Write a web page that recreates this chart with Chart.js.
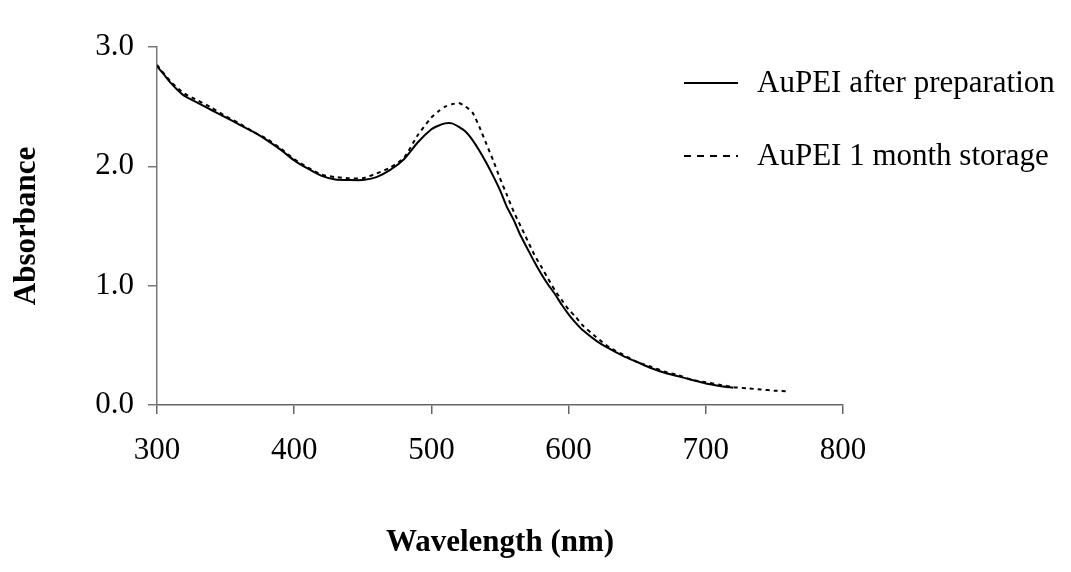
<!DOCTYPE html>
<html>
<head>
<meta charset="utf-8">
<script src="https://cdn.jsdelivr.net/npm/chart.js@4.4.1/dist/chart.umd.min.js"></script>
<style>
  html, body { margin: 0; padding: 0; background: #fff; }
  #wrap { width: 1071px; height: 572px; }
</style>
</head>
<body>
<div id="wrap"><canvas id="uv-chart" width="1071" height="572"></canvas></div>
<script>
// wavelengths (nm) and absorbance
const freshWl  = [300, 305, 310, 315, 320, 330, 340, 350, 360, 370, 380, 390, 400, 410, 420, 430, 440, 450, 460, 470, 480, 490, 500, 505, 510, 515, 520, 525, 530, 535, 540, 545, 550, 555, 560, 565, 570, 575, 580, 585, 590, 595, 600, 605, 610, 620, 630, 640, 650, 660, 670, 680, 690, 700, 710, 720];
const freshAbs = [2.84, 2.77, 2.70, 2.64, 2.59, 2.53, 2.47, 2.41, 2.35, 2.29, 2.22, 2.14, 2.05, 1.98, 1.92, 1.89, 1.885, 1.885, 1.91, 1.97, 2.06, 2.20, 2.31, 2.34, 2.36, 2.36, 2.33, 2.29, 2.22, 2.13, 2.03, 1.92, 1.80, 1.66, 1.55, 1.42, 1.31, 1.20, 1.10, 1.01, 0.93, 0.84, 0.76, 0.69, 0.63, 0.54, 0.47, 0.41, 0.36, 0.31, 0.27, 0.24, 0.21, 0.18, 0.16, 0.145];

const storedWl  = [300, 310, 320, 330, 340, 350, 360, 370, 380, 390, 400, 410, 420, 430, 440, 450, 460, 470, 480, 490, 500, 505, 510, 515, 520, 525, 530, 535, 540, 545, 550, 555, 560, 565, 570, 575, 580, 585, 590, 595, 600, 605, 610, 620, 630, 640, 650, 660, 670, 680, 690, 700, 710, 720, 730, 740, 750, 760];
const storedAbs = [2.85, 2.71, 2.61, 2.55, 2.49, 2.42, 2.36, 2.29, 2.23, 2.15, 2.06, 1.99, 1.93, 1.91, 1.90, 1.90, 1.94, 1.99, 2.07, 2.26, 2.41, 2.46, 2.50, 2.52, 2.53, 2.50, 2.45, 2.33, 2.19, 2.05, 1.90, 1.76, 1.62, 1.50, 1.38, 1.26, 1.16, 1.06, 0.96, 0.88, 0.80, 0.74, 0.67, 0.57, 0.48, 0.42, 0.36, 0.32, 0.28, 0.25, 0.21, 0.19, 0.17, 0.15, 0.14, 0.13, 0.12, 0.115];

const seriesLabels = ['AuPEI after preparation', 'AuPEI 1 month storage'];
const xTicks = [300, 400, 500, 600, 700, 800];
const yTicks = [0, 1, 2, 3];

const serif = '"Liberation Serif", "Times New Roman", serif';

function toPoints(xs, ys) {
    return xs.map((x, i) => ({ x: x, y: ys[i] }));
}

// legend drawn to the right, overlapping the plot like the original
const sideLegend = {
    id: 'sideLegend',
    afterDraw(chart) {
        const ctx = chart.ctx;
        const rows = [83, 156];
        const dashes = [[], [7, 6]];
        ctx.save();
        ctx.font = '31px ' + serif;
        ctx.fillStyle = '#000';
        ctx.textBaseline = 'middle';
        chart.data.datasets.forEach((ds, i) => {
            ctx.beginPath();
            ctx.strokeStyle = ds.borderColor;
            ctx.lineWidth = 2;
            ctx.setLineDash(dashes[i]);
            ctx.moveTo(684, rows[i]);
            ctx.lineTo(738, rows[i]);
            ctx.stroke();
            ctx.setLineDash([]);
            ctx.fillText(ds.label, 757, rows[i] + 1);
        });
        ctx.restore();
    }
};

const ctx = document.getElementById('uv-chart').getContext('2d');

new Chart(ctx, {
    type: 'line',
    data: {
        datasets: [{
            label: seriesLabels[0],
            data: toPoints(freshWl, freshAbs),
            borderColor: '#000',
            borderWidth: 2,
            pointRadius: 0,
            tension: 0.2,
            fill: false
        }, {
            label: seriesLabels[1],
            data: toPoints(storedWl, storedAbs),
            borderColor: '#000',
            borderWidth: 2,
            borderDash: [4, 4],
            pointRadius: 0,
            tension: 0.2,
            fill: false
        }]
    },
    options: {
        responsive: false,
        animation: false,
        layout: { padding: { top: 47, right: 228, bottom: 0, left: 0 } },
        plugins: {
            legend: { display: false },
            tooltip: { enabled: false }
        },
        scales: {
            x: {
                type: 'linear',
                min: 300,
                max: 800,
                afterBuildTicks: axis => { axis.ticks = xTicks.map(v => ({ value: v })); },
                afterFit: axis => { axis.height = 572 - 405; },
                border: { display: true, color: '#666', width: 1.5 },
                grid: { drawOnChartArea: false, drawTicks: true, tickLength: 9, color: '#666', lineWidth: 1.5 },
                ticks: { color: '#000', font: { family: serif, size: 31 }, padding: 18, maxRotation: 0 },
                title: {
                    display: true,
                    text: 'Wavelength (nm)',
                    color: '#000',
                    font: { family: serif, size: 31, weight: 'bold' },
                    padding: { top: 0, bottom: 10 }
                }
            },
            y: {
                type: 'linear',
                min: 0,
                max: 3,
                afterBuildTicks: axis => { axis.ticks = yTicks.map(v => ({ value: v })); },
                afterFit: axis => { axis.width = 157; },
                border: { display: true, color: '#777', width: 1.5 },
                grid: { drawOnChartArea: false, drawTicks: true, tickLength: 9, color: '#777', lineWidth: 1.5 },
                ticks: {
                    color: '#000',
                    font: { family: serif, size: 31 },
                    padding: 14,
                    callback: v => v.toFixed(1)
                },
                title: {
                    display: true,
                    text: 'Absorbance',
                    color: '#000',
                    font: { family: serif, size: 31, weight: 'bold' },
                    padding: { top: 8, bottom: 0 }
                }
            }
        }
    },
    plugins: [sideLegend]
});
</script>
</body>
</html>
